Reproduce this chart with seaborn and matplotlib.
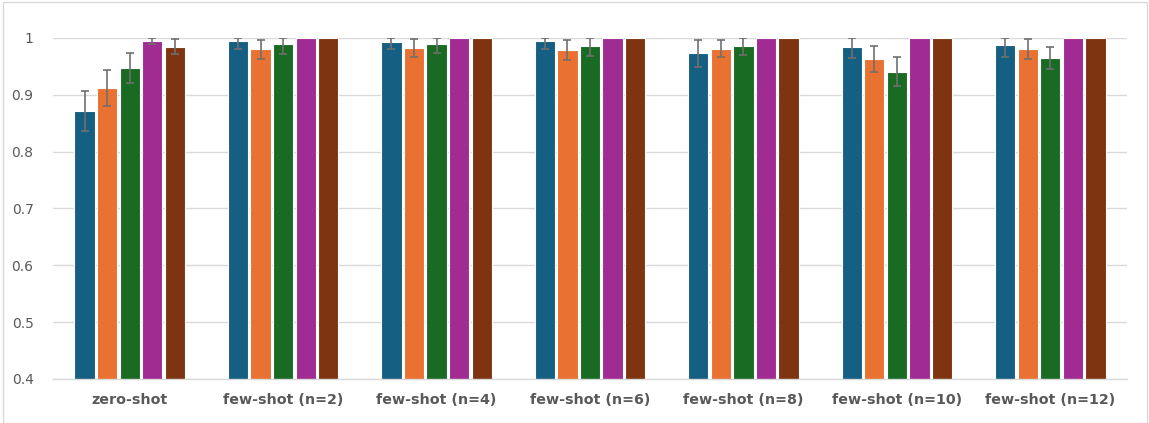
import matplotlib
matplotlib.use("Agg")
import matplotlib.pyplot as plt
from matplotlib.patches import Rectangle
import seaborn as sns
import pandas as pd
import numpy as np

categories = ["zero-shot", "few-shot (n=2)", "few-shot (n=4)", "few-shot (n=6)",
              "few-shot (n=8)", "few-shot (n=10)", "few-shot (n=12)"]
series = ["S1", "S2", "S3", "S4", "S5"]
colors = ["#156082", "#E97132", "#196B24", "#A02B93", "#7E3410"]

s1 = [0.871, 0.995, 0.993, 0.994, 0.973, 0.985, 0.988]
s2 = [0.912, 0.980, 0.983, 0.979, 0.981, 0.963, 0.981]
s3 = [0.947, 0.989, 0.989, 0.986, 0.986, 0.941, 0.965]
s4 = [0.995, 1.0, 1.0, 1.0, 1.0, 1.0, 1.0]
s5 = [0.985, 1.0, 1.0, 1.0, 1.0, 1.0, 1.0]

e1 = [0.035, 0.014, 0.013, 0.014, 0.0235, 0.021, 0.021]
e2 = [0.031, 0.017, 0.016, 0.018, 0.015, 0.023, 0.018]
e3 = [0.027, 0.018, 0.015, 0.018, 0.016, 0.026, 0.020]
e4 = [0.006, 0.0, 0.0, 0.0, 0.0, 0.0, 0.0]
e5 = [0.013, 0.0, 0.0, 0.0, 0.0, 0.0, 0.0]

values = [s1, s2, s3, s4, s5]
errors = [e1, e2, e3, e4, e5]

rows = []
for sname, vals in zip(series, values):
    for c, v in zip(categories, vals):
        rows.append({"category": c, "series": sname, "value": v})
df = pd.DataFrame(rows)

sns.set_theme(style="white")
plt.rcParams['font.family'] = ['DejaVu Sans']

fig = plt.figure(figsize=(11.49, 4.23), dpi=100)
ax = fig.add_axes([53/1149, 1-379/423, (1127-53)/1149, (379-38)/423])

sns.barplot(data=df, x="category", y="value", hue="series", order=categories,
            hue_order=series, palette=colors, width=0.735, gap=0.1,
            edgecolor="white", linewidth=0.8, saturation=1, legend=False, ax=ax)

for cont, vals, errs in zip(ax.containers, values, errors):
    xs = [p.get_x() + p.get_width() / 2 for p in cont.patches]
    lo = np.array(errs)
    hi = np.minimum(np.array(vals) + np.array(errs), 1.0) - np.array(vals)
    mask = lo > 0
    ax.errorbar(np.array(xs)[mask], np.array(vals)[mask],
                yerr=[lo[mask], hi[mask]], fmt="none", ecolor="#6f6f6f",
                elinewidth=1.2, capsize=3.2, capthick=1.2, zorder=5)

ax.set_ylim(0.4, 1.0)
ax.set_xlim(-0.5, 6.5)
ax.set_yticks([0.4, 0.5, 0.6, 0.7, 0.8, 0.9, 1.0])
ax.set_yticklabels(["0.4", "0.5", "0.6", "0.7", "0.8", "0.9", "1"])
ax.yaxis.grid(True, color="#D9D9D9", linewidth=1.0)
ax.set_axisbelow(True)
for side in ["top", "right", "left"]:
    ax.spines[side].set_visible(False)
ax.spines["bottom"].set_color("#D9D9D9")
ax.spines["bottom"].set_linewidth(1.0)
ax.set_xlabel("")
ax.set_ylabel("")
ax.tick_params(axis="y", length=0, pad=14, labelsize=10, labelcolor="#595959")
ax.tick_params(axis="x", length=0, pad=10, labelcolor="#595959")
for lab in ax.get_xticklabels():
    lab.set_fontweight("bold")
    lab.set_fontsize(10.3)

fig.patches.append(Rectangle((2.5/1149, 0), (1147-2.5)/1149, 1 - 2.5/423,
                             transform=fig.transFigure, fill=False,
                             edgecolor="#D9D9D9", linewidth=1.0))

fig.savefig("out.png", dpi=100)
